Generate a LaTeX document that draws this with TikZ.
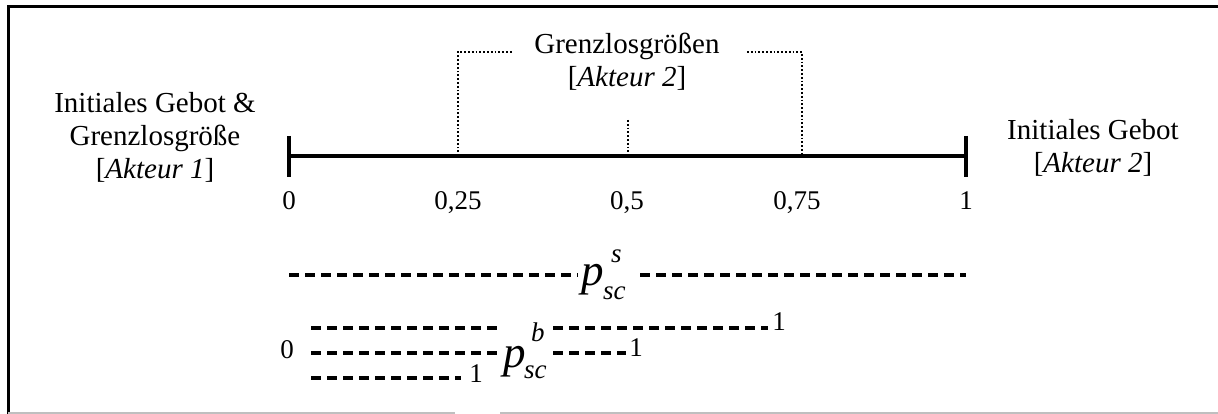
\documentclass[tikz,border=0pt]{standalone}
\usepackage{fontspec}
\setmainfont{Liberation Serif}
\begin{document}
\begin{tikzpicture}[x=1pt,y=-1pt,
  lbl/.style={inner sep=0pt,align=center,font=\fontsize{29}{33}\selectfont},
  num/.style={inner sep=0pt,anchor=base,font=\fontsize{27}{33}\selectfont},
  axisline/.style={line width=3.2pt},
  dotline/.style={line width=2.8pt,dash pattern=on 1.8pt off 2pt},
  dashline/.style={line width=3.1pt,dash pattern=on 10pt off 6pt},
  pbig/.style={inner sep=0pt,anchor=base west,font=\fontsize{45}{45}\selectfont\itshape},
  psmall/.style={inner sep=0pt,anchor=base west,font=\fontsize{27}{27}\selectfont\itshape}]
\useasboundingbox (0,0) rectangle (1218,414);
% frame
\draw[line width=3pt] (8,414) -- (8,7) -- (1218,7);
\draw[line width=2pt,gray!50] (8,412.5) -- (455,412.5) (500,412.5) -- (1218,412.5);
% axis
\coordinate (a0) at (289,156);
\coordinate (a1) at (966,156);
\coordinate (a0t) at (289,136);
\coordinate (a0b) at (289,177);
\coordinate (a1t) at (966,136);
\coordinate (a1b) at (966,177);
\draw[axisline] (a0) -- (a1);
\draw[axisline] (a0t) -- (a0b);
\draw[axisline] (a1t) -- (a1b);
% tick labels
\node[num] (t0) at (289,210) {0};
\node[num] (t1) at (458,210) {0,25};
\node[num] (t2) at (627,210) {0,5};
\node[num] (t3) at (797,210) {0,75};
\node[num] (t4) at (966,210) {1};
% side labels
\node[lbl] (left) at (155,137) {Initiales Gebot \&\\Grenzlosgröße\\{[}\textit{Akteur 1}{]}};
\node[lbl] (right) at (1093,148) {Initiales Gebot\\{[}\textit{Akteur 2}{]}};
\node[lbl] (top) at (627,62) {Grenzlosgrößen\\{[}\textit{Akteur 2}{]}};
% dotted bracket
\coordinate (d0) at (458,156);
\coordinate (d1) at (458,52);
\coordinate (d2) at (512,52);
\coordinate (d3) at (747,52);
\coordinate (d4) at (802,52);
\coordinate (d5) at (802,156);
\coordinate (m0) at (628,120);
\coordinate (m1) at (628,156);
\draw[dotline] (d0) -- (d1) -- (d2);
\draw[dotline] (d3) -- (d4) -- (d5);
\draw[dotline] (m0) -- (m1);
% p_sc^s
\node[pbig] (ps) at (581,285) {p};
\node[psmall] (pss) at (611,262) {s};
\node[psmall] (psc) at (603,299) {sc};
\coordinate (s0) at (289,275);
\coordinate (s1) at (578,275);
\coordinate (s2) at (640,275);
\coordinate (s3) at (966,275);
\draw[dashline] (s0) -- (s1);
\draw[dashline] (s2) -- (s3);
% p_sc^b
\node[pbig] (pb) at (503,367) {p};
\node[psmall] (pbs) at (531,341) {b};
\node[psmall] (pbc) at (524,378) {sc};
\node[num] (z0) at (287,358) {0};
\coordinate (r1a) at (311,328);
\coordinate (r1b) at (500,328);
\coordinate (r1c) at (553,328);
\coordinate (r1d) at (768,328);
\coordinate (r2a) at (311,353);
\coordinate (r2b) at (500,353);
\coordinate (r2c) at (553,353);
\coordinate (r2d) at (626,353);
\coordinate (r3a) at (311,378);
\coordinate (r3b) at (461,378);
\draw[dashline] (r1a) -- (r1b);
\draw[dashline] (r1c) -- (r1d);
\node[num] (o1) at (779,330) {1};
\draw[dashline] (r2a) -- (r2b);
\draw[dashline] (r2c) -- (r2d);
\node[num] (o2) at (636,356) {1};
\draw[dashline] (r3a) -- (r3b);
\node[num] (o3) at (476,382) {1};
\end{tikzpicture}
\end{document}
